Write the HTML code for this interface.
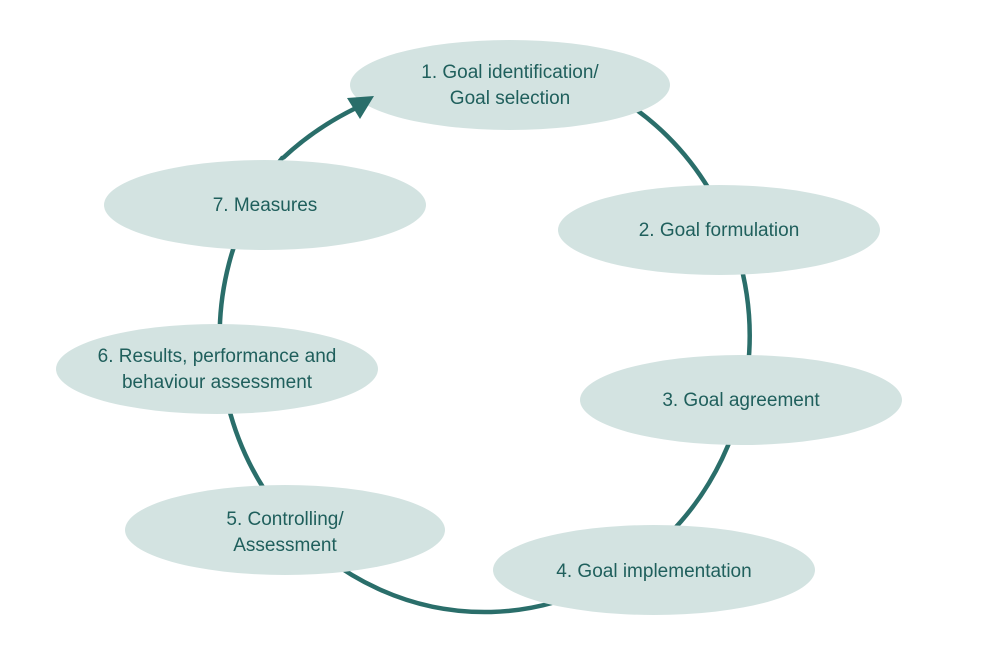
<!DOCTYPE html>
<html><head><meta charset="utf-8"><style>
html,body{margin:0;padding:0;background:#fff;}
svg{display:block;}
text{font-family:"Liberation Sans",sans-serif;font-size:19px;fill:#1f5f5c;text-anchor:middle;}
</style></head><body>
<svg width="992" height="672" viewBox="0 0 992 672">
<path d="M440 64 A265 276 0 1 1 283 157" fill="none" stroke="#2a6e6a" stroke-width="4.5"/>
<g fill="#d3e3e1">
<ellipse cx="510" cy="85" rx="160" ry="45"/>
<ellipse cx="719" cy="230" rx="161" ry="45"/>
<ellipse cx="741" cy="400" rx="161" ry="45"/>
<ellipse cx="654" cy="570" rx="161" ry="45"/>
<ellipse cx="285" cy="530" rx="160" ry="45"/>
<ellipse cx="217" cy="369" rx="161" ry="45"/>
<ellipse cx="265" cy="205" rx="161" ry="45"/>
</g>
<path d="M283 158 Q315 128 356 108" fill="none" stroke="#2a6e6a" stroke-width="4.5"/>
<polygon points="374,96 347,98 360,119" fill="#2a6e6a"/>
<text x="510" y="78">1. Goal identification/</text>
<text x="510" y="104">Goal selection</text>
<text x="719" y="236">2. Goal formulation</text>
<text x="741" y="406">3. Goal agreement</text>
<text x="654" y="577">4. Goal implementation</text>
<text x="285" y="525">5. Controlling/</text>
<text x="285" y="551">Assessment</text>
<text x="217" y="362">6. Results, performance and</text>
<text x="217" y="388">behaviour assessment</text>
<text x="265" y="211">7. Measures</text>
</svg>
</body></html>
